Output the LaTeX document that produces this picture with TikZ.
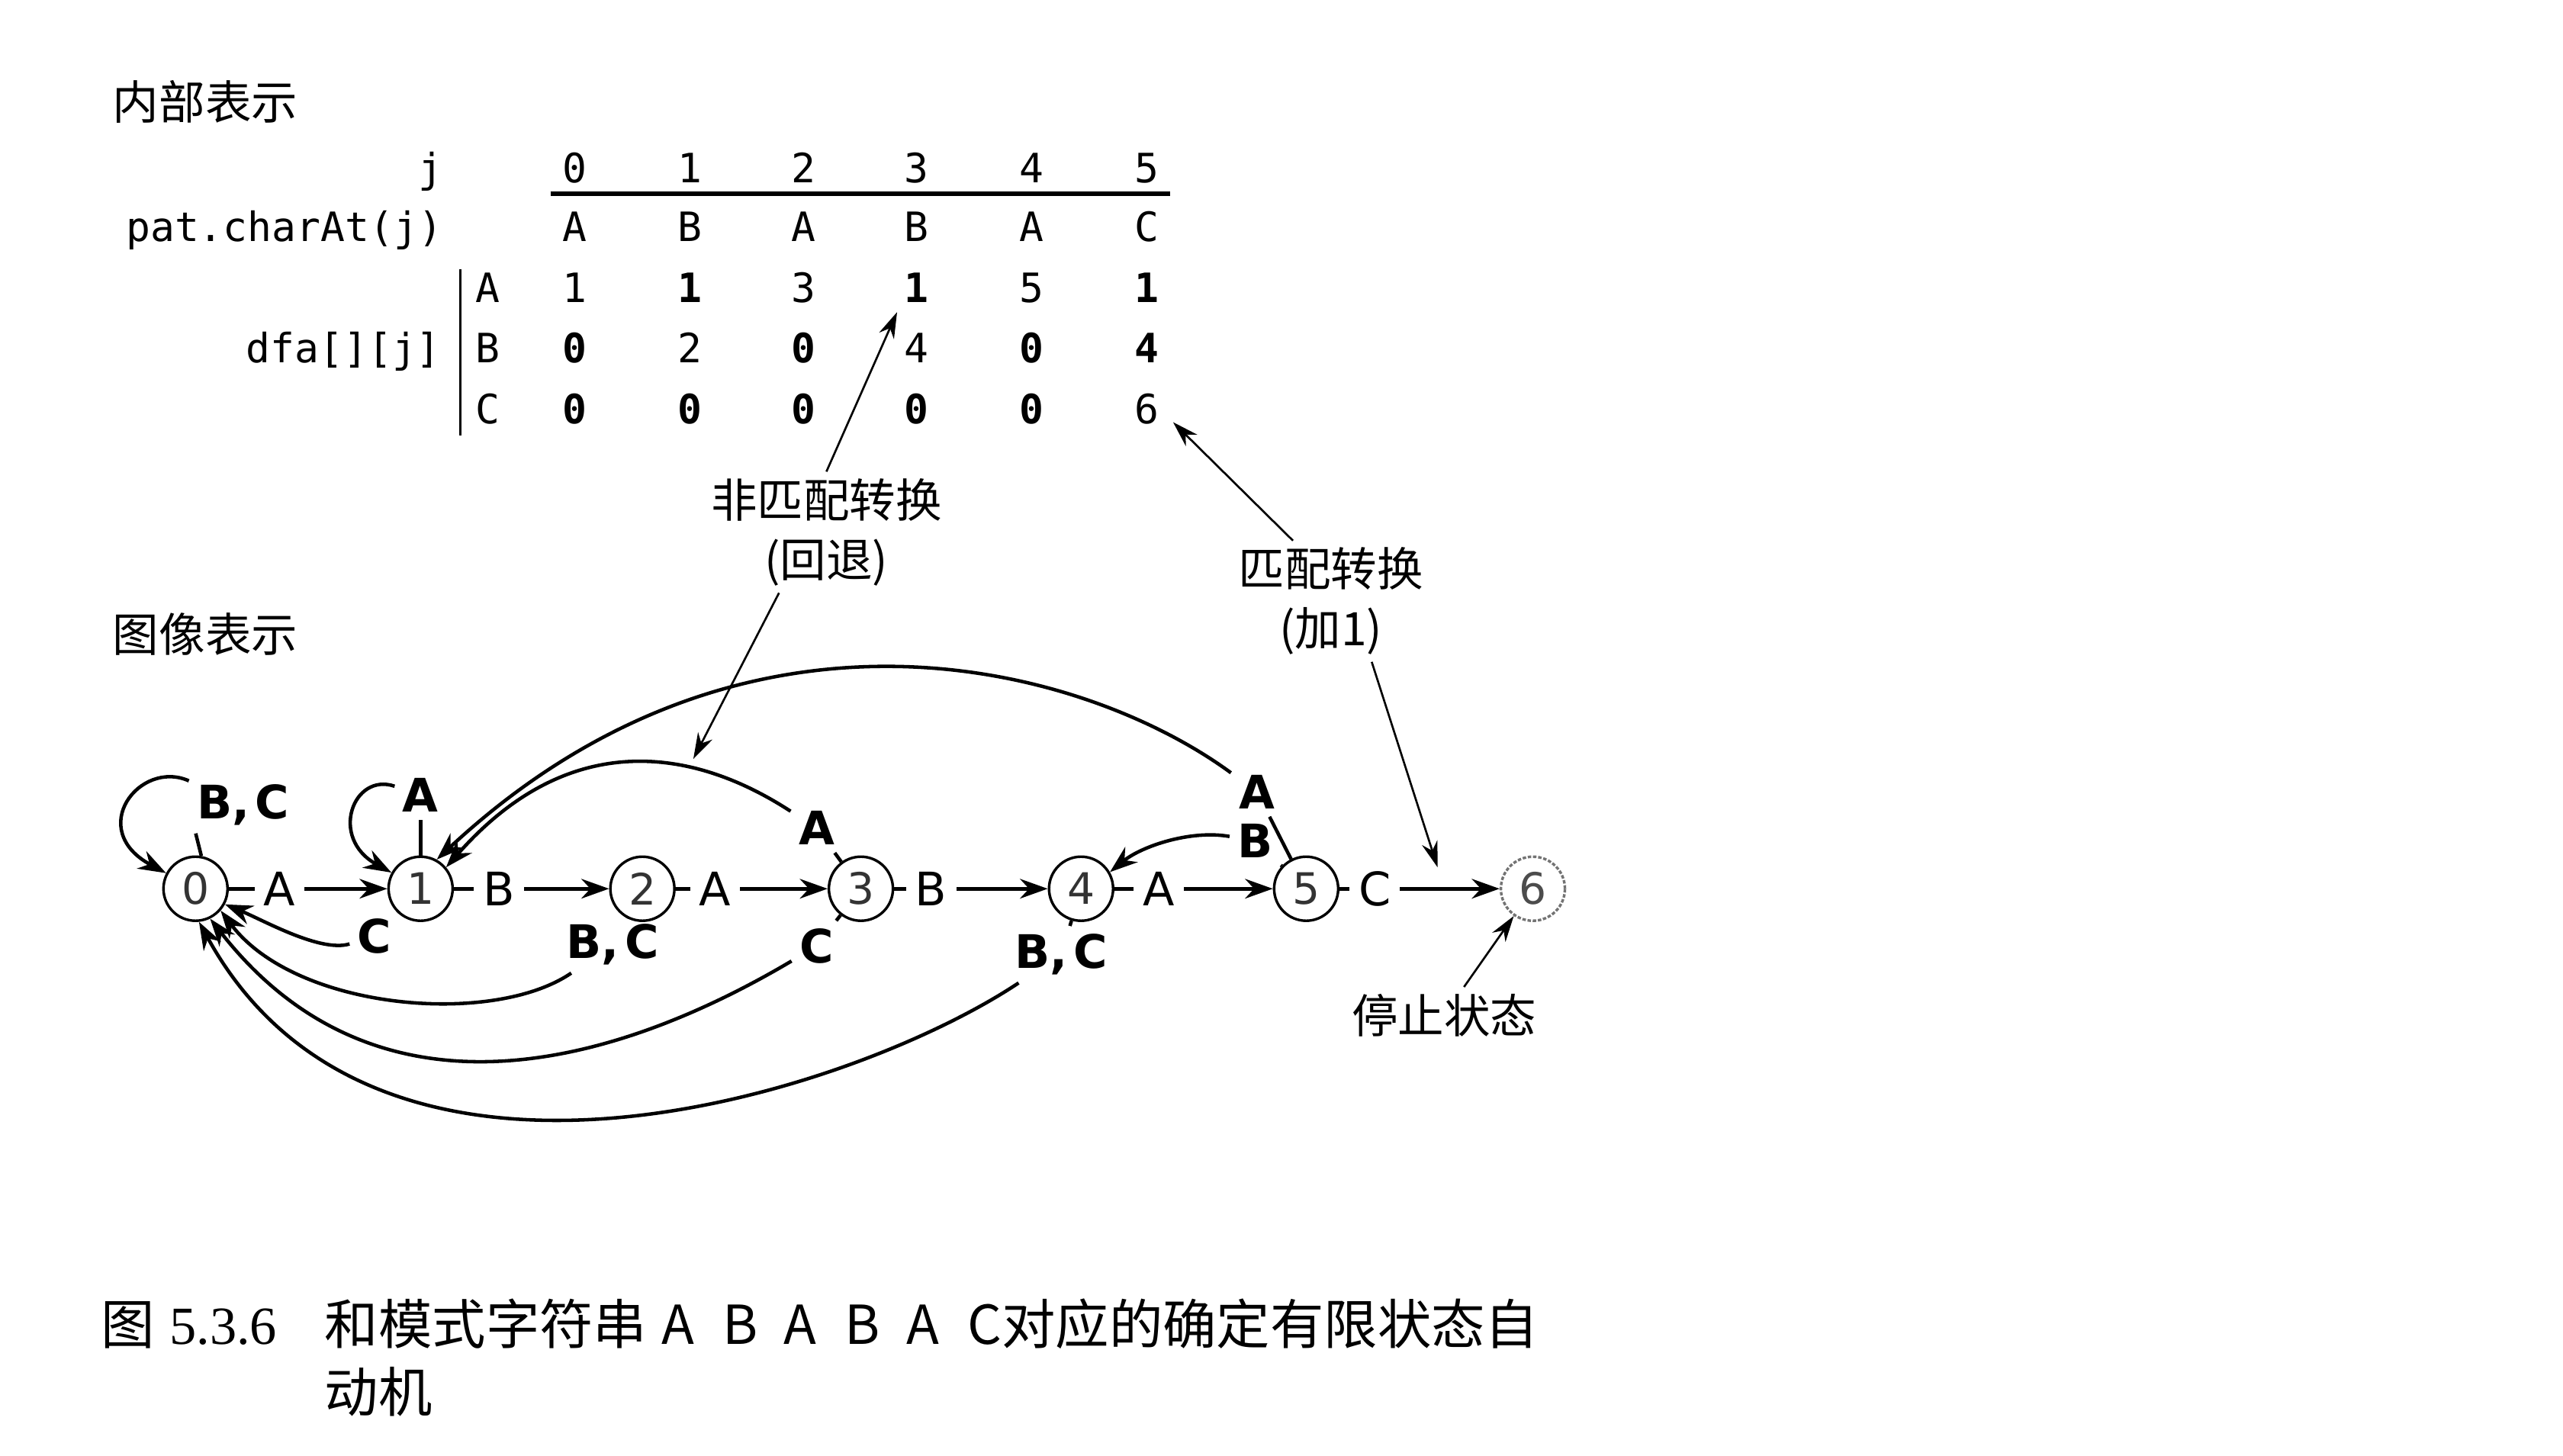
\documentclass[tikz,border=0pt]{standalone}
\usepackage{fontspec}
\setmainfont{DejaVu Sans}
\newfontfamily\cjkfont{Noto Sans CJK SC}
\newfontfamily\codefont{DejaVu Sans Mono}
\newfontfamily\numfont{Liberation Serif}
\usetikzlibrary{arrows.meta}
\newcommand{\pletter}[1]{\makebox[10.6pt][l]{#1}}

\begin{document}
\begin{tikzpicture}
    \tikzstyle{heading}=[anchor=west, inner sep=0pt, font=\cjkfont\fontsize{8}{10}\selectfont]
    \tikzstyle{note}=[align=center, inner sep=1pt, font=\cjkfont\fontsize{8}{10.3}\selectfont]
    \tikzstyle{cell}=[anchor=base, inner sep=0pt, font=\codefont\fontsize{7}{8}\selectfont]
    \tikzstyle{bcell}=[cell, font=\codefont\bfseries\fontsize{7}{8}\selectfont]
    \tikzstyle{state}=[circle, draw, line width=0.45pt, minimum size=0.39cm, inner sep=0pt, text=black!80, font=\fontsize{7.5}{8}\selectfont]
    \tikzstyle{fwdlbl}=[fill=white, inner xsep=1.6pt, inner ysep=1pt, font=\fontsize{8}{9}\selectfont]
    \tikzstyle{backlbl}=[inner sep=1.2pt, font=\bfseries\fontsize{8}{9}\selectfont]
    \tikzstyle{edgeline}=[line width=0.6pt]
    \tikzstyle{arrowed}=[-{Stealth[length=4.8pt,width=3.4pt]}]
    \tikzstyle{pointer}=[line width=0.35pt, -{Stealth[length=4.5pt,width=2.8pt]}]
    \useasboundingbox (0,0) rectangle (15.6,8.86);

    % internal representation
    \node [heading] (inner) at (0.68, 8.24) {内部表示};
    \node [cell, anchor=base east] (jlbl) at (2.70, 7.75) {j};
    \node [cell] (h0) at (3.50, 7.75) {0};
    \node [cell] (h1) at (4.20, 7.75) {1};
    \node [cell] (h2) at (4.89, 7.75) {2};
    \node [cell] (h3) at (5.58, 7.75) {3};
    \node [cell] (h4) at (6.28, 7.75) {4};
    \node [cell] (h5) at (6.98, 7.75) {5};
    \draw [line width=0.7pt] (3.35, 7.68) -- (7.12, 7.68);
    \node [cell, anchor=base east] (patlbl) at (2.70, 7.39) {pat.charAt(j)};
    \node [cell] (p0) at (3.50, 7.39) {A};
    \node [cell] (p1) at (4.20, 7.39) {B};
    \node [cell] (p2) at (4.89, 7.39) {A};
    \node [cell] (p3) at (5.58, 7.39) {B};
    \node [cell] (p4) at (6.28, 7.39) {A};
    \node [cell] (p5) at (6.98, 7.39) {C};
    \node [cell, anchor=base east] (dfalbl) at (2.69, 6.65) {dfa[][j]};
    \draw [line width=0.4pt] (2.80, 7.22) -- (2.80, 6.21);
    \node [cell] (ra) at (2.97, 7.02) {A};
    \node [cell] (rb) at (2.97, 6.65) {B};
    \node [cell] (rc) at (2.97, 6.28) {C};
    \node [cell]  (a0) at (3.50, 7.02) {1};
    \node [bcell] (a1) at (4.20, 7.02) {1};
    \node [cell]  (a2) at (4.89, 7.02) {3};
    \node [bcell] (a3) at (5.58, 7.02) {1};
    \node [cell]  (a4) at (6.28, 7.02) {5};
    \node [bcell] (a5) at (6.98, 7.02) {1};
    \node [bcell] (b0) at (3.50, 6.65) {0};
    \node [cell]  (b1) at (4.20, 6.65) {2};
    \node [bcell] (b2) at (4.89, 6.65) {0};
    \node [cell]  (b3) at (5.58, 6.65) {4};
    \node [bcell] (b4) at (6.28, 6.65) {0};
    \node [bcell] (b5) at (6.98, 6.65) {4};
    \node [bcell] (c0) at (3.50, 6.28) {0};
    \node [bcell] (c1) at (4.20, 6.28) {0};
    \node [bcell] (c2) at (4.89, 6.28) {0};
    \node [bcell] (c3) at (5.58, 6.28) {0};
    \node [bcell] (c4) at (6.28, 6.28) {0};
    \node [cell]  (c5) at (6.98, 6.28) {6};

    % call-outs
    \node [note] (nonmatch) at (5.03, 5.62) {非匹配转换\\(回退)};
    \node [note] (match) at (8.10, 5.20) {匹配转换\\(加1)};
    \coordinate (tA) at (5.46, 6.96);
    \coordinate (tB) at (4.22, 4.24);
    \coordinate (tC) at (7.14, 6.29);
    \coordinate (tD) at (8.75, 3.58);
    \draw [pointer] (nonmatch.north) -- (tA);
    \draw [pointer] (nonmatch.-128) -- (tB);
    \draw [pointer] (match.122) -- (tC);
    \draw [pointer] (match.-56) -- (tD);

    % graphical representation
    \node [heading] (graphic) at (0.68, 5.00) {图像表示};
    \node [state] (s0) at (1.19, 3.45) {0};
    \node [state] (s1) at (2.56, 3.45) {1};
    \node [state] (s2) at (3.91, 3.45) {2};
    \node [state] (s3) at (5.24, 3.45) {3};
    \node [state] (s4) at (6.58, 3.45) {4};
    \node [state] (s5) at (7.95, 3.45) {5};
    \node [state, draw=black!55, dash pattern=on 0.6pt off 0.3pt, text=black!70] (s6) at (9.33, 3.45) {6};
    \draw [edgeline, arrowed] (s0) -- node [fwdlbl, pos=0.32] {A} (s1);
    \draw [edgeline, arrowed] (s1) -- node [fwdlbl, pos=0.29] {B} (s2);
    \draw [edgeline, arrowed] (s2) -- node [fwdlbl, pos=0.26] {A} (s3);
    \draw [edgeline, arrowed] (s3) -- node [fwdlbl, pos=0.24] {B} (s4);
    \draw [edgeline, arrowed] (s4) -- node [fwdlbl, pos=0.28] {A} (s5);
    \draw [edgeline, arrowed] (s5) -- node [fwdlbl, pos=0.22] {C} (s6);

    % back transitions
    \node [backlbl] (lbc0) at (1.48, 3.96) {B,\kern1pt C};
    \node [backlbl] (la1) at (2.56, 4.02) {A};
    \node [backlbl] (lc1) at (2.28, 3.16) {C};
    \node [backlbl] (lbc2) at (3.73, 3.11) {B,\kern1pt C};
    \node [backlbl] (la3) at (4.97, 3.82) {A};
    \node [backlbl] (lc3) at (4.97, 3.10) {C};
    \node [backlbl] (lbc4) at (6.46, 3.05) {B,\kern1pt C};
    \node [backlbl] (la5) at (7.65, 4.04) {A};
    \node [backlbl] (lb5) at (7.64, 3.74) {B};
    \draw [edgeline] (s0.80) -- (lbc0.-149);
    \draw [edgeline] (s1) -- (la1);
    \draw [edgeline] (s1) -- (lc1);
    \draw [edgeline] (s2) -- (lbc2);
    \draw [edgeline] (s3) -- (la3);
    \draw [edgeline] (s3) -- (lc3);
    \draw [edgeline] (s4) -- (lbc4);
    \draw [edgeline] (s5) -- (la5);
    \draw [edgeline] (s5) -- (lb5);
    \draw [edgeline, arrowed] (lbc0) .. controls (0.85, 4.24) and (0.52, 3.81) .. (s0.152);
    \draw [edgeline, arrowed] (la1) .. controls (2.15, 4.16) and (2.00, 3.76) .. (s1.151);
    \draw [edgeline, arrowed] (lc1) .. controls (1.95, 3.06) and (1.60, 3.26) .. (s0.-28);
    \draw [edgeline, arrowed] (lbc2) .. controls (3.00, 2.61) and (1.80, 2.71) .. (s0.-41);
    \draw [edgeline, arrowed] (lc3) .. controls (3.67, 2.33) and (2.27, 2.00) .. (s0.-64);
    \draw [edgeline, arrowed] (lbc4) .. controls (5.20, 2.21) and (2.30, 1.26) .. (s0.-84);
    \draw [edgeline, arrowed] (la3) .. controls (4.52, 4.11) and (3.63, 4.62) .. (s1.40);
    \draw [edgeline, arrowed] (la5) .. controls (6.60, 4.81) and (4.54, 5.38) .. (s1.61);
    \draw [edgeline, arrowed] (lb5) .. controls (7.25, 3.81) and (6.95, 3.71) .. (s4.30);
    \node [note] (stop) at (8.79, 2.68) {停止状态};
    \draw [pointer] (stop) -- (s6);

    % caption
    \node [anchor=base west, inner sep=0pt, font=\fontsize{9.3}{11.6}\selectfont] (fignum) at (0.61, 0.675) {{\cjkfont 图}\hspace{2.5pt}{\numfont 5.3.6}};
    \node [anchor=base west, inner sep=0pt, font=\cjkfont\fontsize{9.3}{11.6}\selectfont] (capline1) at (1.97, 0.675) {和模式字符串\hspace{2.5pt}\pletter{A}\pletter{B}\pletter{A}\pletter{B}\pletter{A}C对应的确定有限状态自};
    \node [anchor=base west, inner sep=0pt, font=\cjkfont\fontsize{9.3}{11.6}\selectfont] (capline2) at (1.97, 0.265) {动机};
\end{tikzpicture}
\end{document}
